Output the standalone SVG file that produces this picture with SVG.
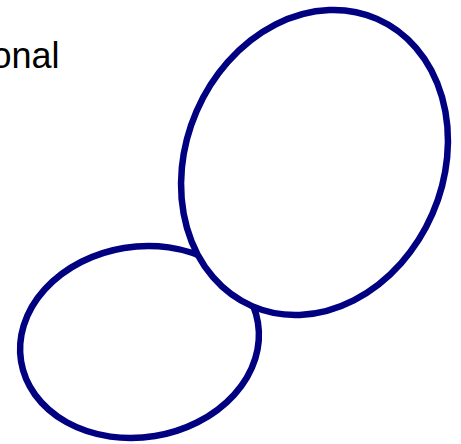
<svg xmlns="http://www.w3.org/2000/svg" width="461" height="444" viewBox="0 0 461 444">
<style>
.sh{fill:#fff;stroke:#000080;stroke-width:6.5}
.lbl{font-family:"Liberation Sans",Arial,sans-serif;font-size:36px;fill:#000}
</style>
<rect width="461" height="444" fill="#fff"/>
<text class="lbl" x="59.5" y="67.5" text-anchor="end">onal</text>
<g id="small">
<ellipse class="sh" cx="139.5" cy="342" rx="120" ry="95.3" transform="rotate(-9.35 139.5 342)"/>
</g>
<g id="large">
<ellipse class="sh" cx="314.5" cy="162.5" rx="128.6" ry="156.6" transform="rotate(23.5 314.5 162.5)"/>
</g>
<g id="connectors"/>
</svg>
